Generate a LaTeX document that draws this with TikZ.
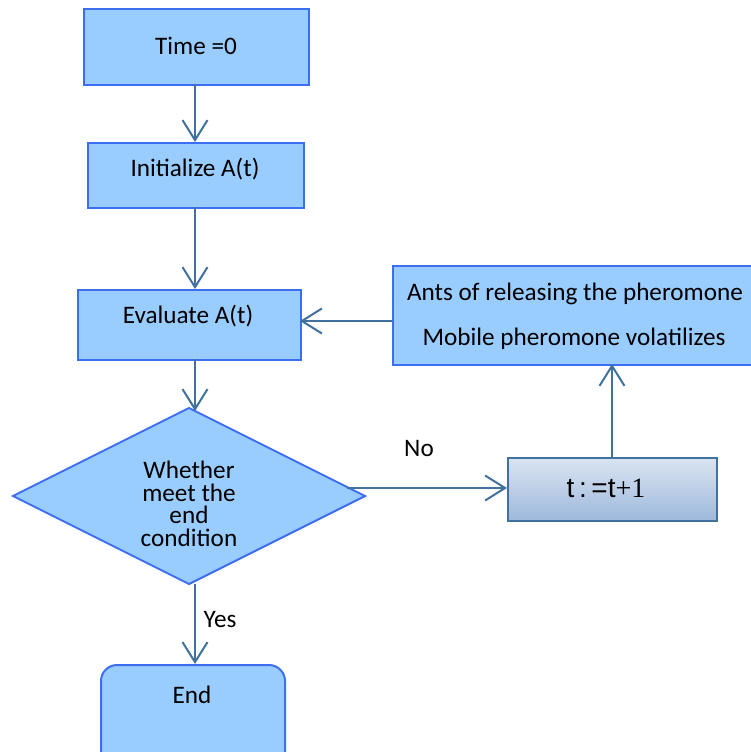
\documentclass[tikz,border=0pt]{standalone}
\usepackage{fontspec}
\setmainfont{Carlito}
\newfontfamily\tsans{Liberation Sans}
\newfontfamily\tserif{Liberation Serif}
\usetikzlibrary{arrows.meta,shapes.geometric}
\definecolor{boxfill}{HTML}{99CCFF}
\definecolor{boxline}{HTML}{3D6EF2}
\definecolor{arrline}{HTML}{41719C}
\definecolor{gradtop}{HTML}{DAE4F1}
\definecolor{gradbot}{HTML}{9DB8DC}
\tikzset{
  flowbox/.style={draw=boxline, fill=boxfill, line width=2pt, inner sep=0pt, anchor=north west},
  txt/.style={anchor=base, inner sep=0pt, font=\fontsize{25.2}{22.4}\selectfont},
  conn/.style={draw=arrline, line width=2pt, -{Straight Barb[length=20pt,width=25pt,line width=2pt]}},
  plainconn/.style={draw=arrline, line width=2pt}
}
\begin{document}
\begin{tikzpicture}[x=1pt,y=-1pt]
\useasboundingbox (0,0) rectangle (751,752);
% boxes
\node[flowbox, minimum width=225pt, minimum height=76pt] (time) at (83,8) {};
\node[flowbox, minimum width=216pt, minimum height=65pt] (init) at (87,142) {};
\node[flowbox, minimum width=223pt, minimum height=70pt] (eval) at (77,289) {};
\node[flowbox, minimum width=366pt, minimum height=99pt] (ants) at (392,265) {};
\node[flowbox, minimum width=184pt, minimum height=110pt, rounded corners=16pt] (endb) at (100,664) {};
\path[draw=boxline, fill=boxfill, line width=2pt] (189,408) coordinate (dtop) -- (365,496) coordinate (dright) -- (189,584) coordinate (dbot) -- (13,496) coordinate (dleft) -- cycle;
\node[draw=arrline, line width=2pt, top color=gradtop, bottom color=gradbot, inner sep=0pt, anchor=north west, minimum width=209pt, minimum height=63pt] (tbox) at (507,457) {};
% texts
\node[txt] (timeL) at (196,55) {Time =0};
\node[txt] (initL) at (195,176) {Initialize A(t)};
\node[txt] (evalL) at (188,323) {Evaluate A(t)};
\node[txt] (antsL1) at (575,300) {Ants of releasing the pheromone};
\node[txt] (antsL2) at (574,345) {Mobile pheromone volatilizes};
\node[txt, align=center] (dL) at (189,546) {Whether\\meet the\\end\\condition};
\node[txt] (endL) at (192,703) {End};
\node[txt] (noL) at (419,456) {No};
\node[txt] (yesL) at (220,627) {Yes};
\node[anchor=base, inner sep=0pt] (tL) at (606,497) {\fontsize{28}{28}\selectfont{\tsans t\,:\,=t}{\tserif +1}};
% connectors
\coordinate (a1) at (195,84);
\coordinate (a2) at (195,142);
\coordinate (b1) at (195,207);
\coordinate (b2) at (195,289);
\coordinate (c1) at (195,359);
\coordinate (c2) at (195,411);
\coordinate (e1) at (195,584);
\coordinate (e2) at (195,664);
\coordinate (f1) at (347,488);
\coordinate (f2) at (507,488);
\coordinate (g1) at (612,457);
\coordinate (g2) at (612,364);
\coordinate (h1) at (392,321);
\coordinate (h2) at (300,321);
\draw[conn] (a1) -- (a2);
\draw[conn] (b1) -- (b2);
\draw[conn] (c1) -- (c2);
\draw[conn] (e1) -- (e2);
\draw[conn] (f1) -- (f2);
\draw[conn] (g1) -- (g2);
\draw[conn] (h1) -- (h2);
\end{tikzpicture}
\end{document}
